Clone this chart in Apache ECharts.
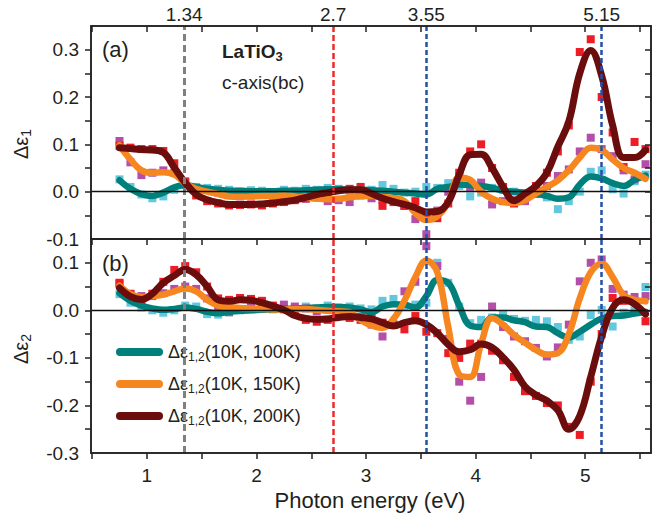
<!DOCTYPE html>
<html>
<head>
<meta charset="utf-8">
<script src="https://cdn.jsdelivr.net/npm/echarts@6.0.0/dist/echarts.min.js"></script>
<style>
html, body { margin: 0; padding: 0; background: #fff; }
#chart { width: 669px; height: 515px; }
</style>
</head>
<body>
<div id="chart"></div>
<script>
// photon energies (eV) of the measured points
const energy = [0.75, 0.85, 0.95, 1.05, 1.15, 1.25, 1.35, 1.45, 1.55, 1.65,
  1.75, 1.85, 1.95, 2.05, 2.15, 2.25, 2.35, 2.45, 2.55, 2.65,
  2.75, 2.85, 2.95, 3.05, 3.15, 3.25, 3.35, 3.45, 3.55, 3.65,
  3.75, 3.85, 3.95, 4.05, 4.15, 4.25, 4.35, 4.45, 4.55, 4.65,
  4.75, 4.85, 4.95, 5.05, 5.15, 5.25, 5.35, 5.45, 5.55]

// (a) delta eps1 : measured points
const pts100a = [0.026, 0.010, -0.006, -0.014, -0.010, 0.004, 0.014, 0.010, 0.008, 0.006,
  0.004, 0.000, 0.003, 0.002, -0.002, 0.004, 0.002, 0.006, 0.004, 0.008,
  0.006, 0.002, 0.008, 0.004, 0.014, 0.006, -0.002, 0.000, 0.010, 0.008,
  0.018, 0.012, -0.010, -0.002, 0.008, 0.004, 0.000, -0.004, -0.002, -0.012,
  -0.037, -0.020, 0.000, 0.042, 0.045, 0.005, -0.004, 0.022, 0.036]
const pts150a = [0.107, 0.062, 0.035, 0.040, 0.045, 0.040, 0.022, 0.008, 0.004, -0.002,
  -0.005, -0.010, -0.008, -0.006, -0.005, -0.004, -0.012, -0.015, -0.012, -0.020,
  -0.018, -0.022, -0.008, -0.014, -0.018, -0.016, -0.030, -0.058, -0.090, -0.040,
  0.000, 0.033, 0.010, 0.019, -0.027, -0.020, -0.018, -0.020, -0.005, 0.012,
  0.033, 0.047, 0.085, 0.114, 0.090, 0.075, 0.045, 0.026, 0.058]
const pts200a = [0.097, 0.093, 0.090, 0.090, 0.086, 0.060, 0.020, -0.008, -0.020, -0.025,
  -0.029, -0.028, -0.027, -0.029, -0.025, -0.022, -0.018, -0.014, -0.008, -0.004,
  0.004, 0.006, 0.010, -0.002, -0.030, -0.022, -0.030, -0.020, -0.048, -0.056,
  -0.025, 0.040, 0.085, 0.100, 0.050, 0.010, -0.025, -0.012, 0.012, 0.040,
  0.085, 0.140, 0.295, 0.322, 0.200, 0.125, 0.052, 0.105, 0.090]
// (a) delta eps1 : smoothed curves
const fit100a = [0.024, 0.006, -0.005, -0.009, -0.002, 0.009, 0.014, 0.010, 0.006, 0.004,
  0.002, 0.002, 0.001, 0.001, 0.001, 0.002, 0.002, 0.003, 0.004, 0.005,
  0.005, 0.004, 0.004, 0.003, 0.002, 0.000, -0.002, -0.004, -0.006, 0.006,
  0.010, 0.015, 0.014, 0.012, 0.008, 0.002, 0.000, -0.002, -0.004, -0.009,
  -0.015, -0.012, 0.015, 0.032, 0.028, 0.018, 0.012, 0.025, 0.034]
const fit150a = [0.098, 0.068, 0.045, 0.040, 0.041, 0.036, 0.018, 0.006, 0.000, -0.005,
  -0.010, -0.011, -0.010, -0.009, -0.009, -0.008, -0.010, -0.013, -0.015, -0.016,
  -0.015, -0.012, -0.009, -0.009, -0.011, -0.014, -0.020, -0.045, -0.060, -0.052,
  -0.022, 0.030, 0.025, 0.000, -0.015, -0.022, -0.024, -0.018, -0.004, 0.010,
  0.024, 0.045, 0.072, 0.093, 0.088, 0.068, 0.050, 0.040, 0.027]
const fit200a = [0.093, 0.091, 0.089, 0.088, 0.083, 0.051, 0.019, -0.006, -0.017, -0.023,
  -0.027, -0.027, -0.027, -0.026, -0.024, -0.021, -0.018, -0.012, -0.006, -0.002,
  0.002, 0.004, 0.004, -0.004, -0.014, -0.021, -0.027, -0.034, -0.043, -0.042,
  -0.022, 0.036, 0.078, 0.079, 0.050, 0.010, -0.019, -0.004, 0.012, 0.040,
  0.095, 0.148, 0.250, 0.298, 0.245, 0.140, 0.072, 0.072, 0.088]

// (b) delta eps2 : measured points
const pts100b = [0.034, 0.016, 0.006, 0.000, -0.005, 0.000, 0.010, 0.008, -0.008, -0.009,
  -0.004, 0.000, 0.002, 0.004, 0.002, 0.006, 0.004, 0.008, 0.004, 0.010,
  0.006, 0.008, 0.004, 0.002, 0.020, 0.024, 0.008, 0.012, 0.016, 0.100,
  0.058, 0.008, -0.027, -0.020, -0.015, -0.008, -0.018, -0.022, -0.020, -0.023,
  -0.035, -0.062, -0.055, -0.010, 0.001, -0.034, -0.005, 0.000, 0.049]
const pts150b = [0.056, 0.035, 0.030, 0.030, 0.036, 0.045, 0.050, 0.045, 0.025, 0.006,
  -0.004, 0.002, 0.008, 0.010, 0.006, 0.012, 0.008, 0.004, -0.002, 0.002,
  -0.004, -0.006, -0.014, -0.030, -0.055, -0.030, 0.040, 0.060, 0.135, 0.093,
  -0.060, -0.150, -0.190, -0.140, 0.008, -0.035, -0.055, -0.065, -0.079, -0.097,
  -0.078, -0.030, 0.061, 0.100, 0.107, 0.045, 0.033, 0.028, 0.030]
const pts200b = [0.058, 0.034, 0.022, 0.035, 0.060, 0.085, 0.093, 0.080, 0.050, 0.025,
  0.022, 0.026, 0.024, 0.020, 0.010, 0.002, -0.008, -0.020, -0.024, -0.020,
  -0.012, -0.016, -0.020, -0.016, -0.026, -0.030, -0.040, -0.012, -0.045, -0.048,
  -0.090, -0.100, -0.070, -0.070, -0.085, -0.105, -0.140, -0.170, -0.180, -0.195,
  -0.200, -0.245, -0.262, -0.150, -0.050, 0.026, 0.020, 0.019, -0.023]
// (b) delta eps2 : smoothed curves
const fit100b = [0.036, 0.020, 0.010, 0.004, 0.001, 0.003, 0.006, 0.003, -0.003, -0.006,
  -0.003, -0.001, 0.000, 0.001, 0.002, 0.003, 0.004, 0.005, 0.006, 0.007,
  0.007, 0.006, 0.002, -0.004, 0.008, 0.013, 0.012, 0.006, 0.030, 0.064,
  0.058, 0.010, -0.032, -0.035, -0.015, -0.015, -0.021, -0.025, -0.034, -0.035,
  -0.048, -0.057, -0.045, -0.030, -0.017, -0.012, -0.011, -0.007, -0.003]
const fit150b = [0.052, 0.034, 0.028, 0.030, 0.033, 0.040, 0.046, 0.040, 0.022, 0.010,
  0.007, 0.005, 0.004, 0.003, 0.002, 0.002, 0.003, 0.003, 0.001, -0.001,
  -0.002, -0.004, -0.020, -0.032, -0.037, -0.018, 0.020, 0.070, 0.105, 0.080,
  -0.035, -0.135, -0.140, -0.070, -0.016, -0.030, -0.052, -0.068, -0.083, -0.093,
  -0.090, -0.050, 0.025, 0.080, 0.098, 0.070, 0.032, 0.022, 0.019]
const fit200b = [0.047, 0.029, 0.023, 0.035, 0.058, 0.073, 0.086, 0.075, 0.050, 0.022,
  0.019, 0.022, 0.021, 0.016, 0.009, 0.001, -0.011, -0.017, -0.019, -0.018,
  -0.015, -0.013, -0.015, -0.018, -0.026, -0.033, -0.026, -0.022, -0.030, -0.048,
  -0.072, -0.087, -0.083, -0.071, -0.078, -0.099, -0.125, -0.160, -0.178, -0.190,
  -0.210, -0.250, -0.222, -0.140, -0.055, 0.005, 0.022, 0.013, -0.008]

// axes: tick positions (major + minor) and labelled values
const xTicks = [0.5, 1, 1.5, 2, 2.5, 3, 3.5, 4, 4.5, 5, 5.5]
const xLabels = [1, 2, 3, 4, 5]
const markerEnergies = [1.34, 2.7, 3.55, 5.15]
const yTicksA = [-0.05, 0, 0.05, 0.1, 0.15, 0.2, 0.25, 0.3]
const yLabelsA = [-0.1, 0, 0.1, 0.2, 0.3]
const yTicksB = [-0.25, -0.2, -0.15, -0.1, -0.05, 0, 0.05, 0.1]
const yLabelsB = [-0.3, -0.2, -0.1, 0, 0.1]
const temps = ['100K', '150K', '200K']

const FONT = '"Liberation Sans", Arial, sans-serif'
const INK = '#231f20'
const X_MIN = 0.49
const X_MAX = 5.6
const markerStyles = [
  { color: '#808080', width: 3, type: [7, 4] },
  { color: '#ee2a2a', width: 2.5, type: [6, 3] },
  { color: '#2350a8', width: 2.5, type: [5, 3] },
  { color: '#2350a8', width: 2.5, type: [5, 3] }
]
const ptColors = ['#63c8dd', '#b34fa8', '#ee1d25']
const lineColors = ['#00807b', '#f6861f', '#6b0d0d']

function labelStyle () {
  return { color: INK, fontSize: 19, fontFamily: FONT }
}

function xAxis (grid, position, ticks, inside, label) {
  return {
    type: 'value', gridIndex: grid, position: position, min: X_MIN, max: X_MAX, z: 10,
    axisLine: { show: true, onZero: false, lineStyle: { color: INK, width: 1.5 } },
    axisTick: { show: true, inside: inside, length: 6, customValues: ticks, lineStyle: { color: INK, width: 1.5 } },
    axisLabel: label || { show: false },
    splitLine: { show: false }
  }
}
function yAxis (grid, position, range, ticks, inside, labels) {
  return {
    type: 'value', gridIndex: grid, position: position, min: range[0], max: range[1], z: 10,
    axisLine: { show: true, onZero: false, lineStyle: { color: INK, width: 1.5 } },
    axisTick: { show: true, inside: inside, length: 6, customValues: ticks, lineStyle: { color: INK, width: 1.5 } },
    axisLabel: labels ? Object.assign({ show: true, customValues: labels, margin: 12, formatter: v => v.toFixed(1) }, labelStyle()) : { show: false },
    splitLine: { show: false }
  }
}

function pairs (arr) {
  return energy.map((e, i) => [e, arr[i]])
}

function markLines () {
  const data = markerEnergies.map((e, i) => ({ xAxis: e, lineStyle: markerStyles[i] }))
  data.push({ yAxis: 0, lineStyle: { color: '#111', width: 1.3, type: 'solid' } })
  return { silent: true, symbol: ['none', 'none'], label: { show: false }, data: data }
}

function panelSeries (xi, yi, pts, fits, withNames) {
  const out = []
  pts.forEach((p, k) => {
    out.push({
      type: 'scatter', name: 'pts' + k, xAxisIndex: xi, yAxisIndex: yi,
      symbol: 'rect', symbolSize: 8, z: k === 0 ? 1 : 2,
      itemStyle: { color: ptColors[k], opacity: 1 },
      data: pairs(p),
      markLine: k === 0 ? markLines() : undefined
    })
  })
  fits.forEach((f, k) => {
    out.push({
      type: 'line', name: withNames ? temps[k] : 'fit' + k, xAxisIndex: xi, yAxisIndex: yi,
      smooth: 0.4, showSymbol: false, z: 3,
      itemStyle: { color: lineColors[k] },
      lineStyle: { color: lineColors[k], width: k === 2 ? 7 : 6.5, cap: 'round', join: 'round' },
      data: pairs(f)
    })
  })
  return out
}

const sub = (size, bold) => ({
  g: { fontSize: size, fontFamily: FONT, fontWeight: bold ? 'bold' : 'normal', color: INK, lineHeight: size + 4 },
  s: { fontSize: Math.round(size * 0.68), fontFamily: FONT, fontWeight: bold ? 'bold' : 'normal', color: INK, verticalAlign: 'bottom', lineHeight: Math.round(size * 0.68) }
})

const option = {
  animation: false,
  backgroundColor: '#fff',
  grid: [
    { left: 91, right: 18, top: 26, height: 213, z: 10, show: true, borderColor: INK, borderWidth: 1.5, backgroundColor: 'transparent' },
    { left: 91, right: 18, top: 239, height: 214, z: 10, show: true, borderColor: INK, borderWidth: 1.5, backgroundColor: 'transparent' }
  ],
  xAxis: [
    xAxis(0, 'bottom', xTicks, false),
    xAxis(0, 'top', xTicks, true, Object.assign({ show: true, customValues: markerEnergies, margin: 2, formatter: v => String(v) }, labelStyle())),
    xAxis(1, 'bottom', xTicks, false, Object.assign({ show: true, customValues: xLabels, margin: 13, formatter: v => String(v) }, labelStyle()))
  ],
  yAxis: [
    yAxis(0, 'left', [-0.1, 0.35], yTicksA, false, yLabelsA),
    yAxis(0, 'right', [-0.1, 0.35], yTicksA, true),
    yAxis(1, 'left', [-0.3, 0.15], yTicksB, false, yLabelsB),
    yAxis(1, 'right', [-0.3, 0.15], yTicksB, true)
  ],
  legend: {
    data: temps,
    orient: 'vertical',
    left: 116,
    top: 341,
    padding: 0,
    itemWidth: 47,
    itemHeight: 8,
    itemGap: 10,
    selectedMode: false,
    icon: 'path://M4,0 L43,0 A4,4 0 0 1 43,8 L4,8 A4,4 0 0 1 4,0 Z',
    formatter: name => '{g|Δε}{s|1,2}{g|(10K, ' + name + ')}',
    textStyle: { color: INK, fontSize: 18, fontFamily: FONT, lineHeight: 22, rich: sub(18) }
  },
  graphic: [
    { type: 'text', x: 102, y: 49, style: { text: '(a)', fontSize: 22, fontFamily: FONT, fill: INK, align: 'left', verticalAlign: 'middle' } },
    { type: 'text', x: 102, y: 263, style: { text: '(b)', fontSize: 22, fontFamily: FONT, fill: INK, align: 'left', verticalAlign: 'middle' } },
    { type: 'text', x: 222, y: 51, style: { text: '{g|LaTiO}{s|3}', fill: INK, rich: sub(19, true), align: 'left', verticalAlign: 'middle' } },
    { type: 'text', x: 222, y: 82, style: { text: 'c-axis(bc)', fontSize: 19, fontFamily: FONT, fill: INK, align: 'left', verticalAlign: 'middle' } },
    { type: 'text', x: 21, y: 144, rotation: Math.PI / 2, style: { text: '{g|Δε}{s|1}', fill: INK, rich: sub(20), align: 'center', verticalAlign: 'middle' } },
    { type: 'text', x: 21, y: 349, rotation: Math.PI / 2, style: { text: '{g|Δε}{s|2}', fill: INK, rich: sub(20), align: 'center', verticalAlign: 'middle' } },
    { type: 'text', x: 370, y: 500, style: { text: 'Photon energy (eV)', fontSize: 22, fontFamily: FONT, fill: INK, align: 'center', verticalAlign: 'middle' } }
  ],
  series: panelSeries(0, 0, [pts100a, pts150a, pts200a], [fit100a, fit150a, fit200a], false)
    .concat(panelSeries(2, 2, [pts100b, pts150b, pts200b], [fit100b, fit150b, fit200b], true))
}

const chart = echarts.init(document.getElementById('chart'), null, { renderer: 'svg' })
chart.setOption(option)
</script>
</body>
</html>
